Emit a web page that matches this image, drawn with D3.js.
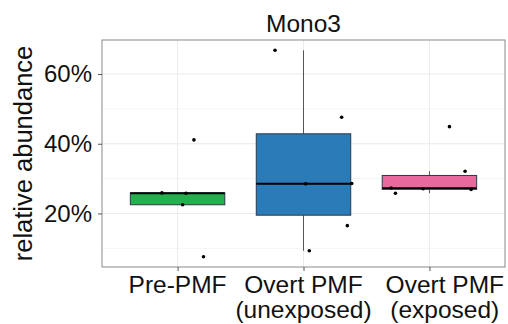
<!DOCTYPE html>
<html>
<head>
<meta charset="utf-8">
<script src="https://cdn.jsdelivr.net/npm/d3@7"></script>
<style>
  body { margin: 0; background: #fff; }
  svg { display: block; font-family: "Liberation Sans", Arial, sans-serif; }
</style>
</head>
<body>
<script>
// groups and their values (relative abundance, %)
var groups = ["Pre-PMF", "Overt PMF\n(unexposed)", "Overt PMF\n(exposed)"];
var colors = ["#22b14c", "#2c7bb9", "#e9699f"];
var prePMF = [7.6, 22.5, 25.8, 25.9, 41.1];
var unexposed = [9.3, 16.5, 28.5, 28.6, 47.6, 66.8];
var exposed = [25.8, 26.9, 27.1, 27.3, 32.1, 44.9];
// horizontal jitter of each point, in category widths
var jitPre = [0.206, 0.04, 0.067, -0.124, 0.13];
var jitUnexp = [0.046, 0.348, 0.017, 0.383, 0.303, -0.226];
var jitExp = [-0.27, 0.331, -0.05, -0.304, 0.283, 0.159];
var yTicks = [20, 40, 60];
var yMinor = [10, 30, 50];

var values = [prePMF, unexposed, exposed];
var jitters = [jitPre, jitUnexp, jitExp];

var w = 508, h = 324;
var pLeft = 102, pRight = 505, pTop = 40, pBottom = 267;

var svg = d3.select("body").append("svg")
  .attr("width", w)
  .attr("height", h);

// SCALES
var all = d3.merge(values);
var ext = d3.extent(all);
var pad = (ext[1] - ext[0]) * 0.05;
var y = d3.scaleLinear()
  .domain([ext[0] - pad, ext[1] + pad])
  .range([pBottom, pTop]);

var x = d3.scalePoint()
  .domain(groups)
  .range([pLeft, pRight])
  .padding(0.6);
var step = x.step();

// GRID
var grid = svg.append("g");
grid.selectAll(".minor").data(yMinor).enter().append("line")
  .attr("x1", pLeft).attr("x2", pRight)
  .attr("y1", d => y(d)).attr("y2", d => y(d))
  .attr("stroke", "#f4f4f4").attr("stroke-width", 1);
grid.selectAll(".major").data(yTicks).enter().append("line")
  .attr("x1", pLeft).attr("x2", pRight)
  .attr("y1", d => y(d)).attr("y2", d => y(d))
  .attr("stroke", "#ebebeb").attr("stroke-width", 1);
grid.selectAll(".vmajor").data(groups).enter().append("line")
  .attr("x1", d => x(d)).attr("x2", d => x(d))
  .attr("y1", pTop).attr("y2", pBottom)
  .attr("stroke", "#ebebeb").attr("stroke-width", 1);

// BOXES
var stats = values.map((v, i) => {
  var s = v.slice().sort(d3.ascending);
  var q1 = d3.quantile(s, 0.25), med = d3.quantile(s, 0.5), q3 = d3.quantile(s, 0.75);
  var iqr = q3 - q1;
  var lo = d3.min(s.filter(d => d >= q1 - 1.5 * iqr));
  var hi = d3.max(s.filter(d => d <= q3 + 1.5 * iqr));
  return {g: groups[i], c: colors[i], q1: q1, med: med, q3: q3, lo: lo, hi: hi};
});

var bw = step * 0.75;
var box = svg.selectAll(".box").data(stats).enter().append("g");
box.append("line")
  .attr("x1", d => x(d.g)).attr("x2", d => x(d.g))
  .attr("y1", d => y(d.hi)).attr("y2", d => y(d.q3))
  .attr("stroke", "#555").attr("stroke-width", 1);
box.append("line")
  .attr("x1", d => x(d.g)).attr("x2", d => x(d.g))
  .attr("y1", d => y(d.q1)).attr("y2", d => y(d.lo))
  .attr("stroke", "#555").attr("stroke-width", 1);
box.append("rect")
  .attr("x", d => x(d.g) - bw / 2)
  .attr("width", bw)
  .attr("y", d => y(d.q3))
  .attr("height", d => y(d.q1) - y(d.q3))
  .attr("fill", d => d.c)
  .attr("stroke", "#2a3a4a").attr("stroke-width", 1);
box.append("line")
  .attr("x1", d => x(d.g) - bw / 2).attr("x2", d => x(d.g) + bw / 2)
  .attr("y1", d => y(d.med)).attr("y2", d => y(d.med))
  .attr("stroke", "#000").attr("stroke-width", 2);

// POINTS
var pts = [];
values.forEach((v, i) => v.forEach((d, j) => pts.push({g: groups[i], v: d, j: jitters[i][j]})));
svg.selectAll(".pt").data(pts).enter().append("circle")
  .attr("cx", d => x(d.g) + d.j * step)
  .attr("cy", d => y(d.v))
  .attr("r", 1.8)
  .attr("fill", "#000");

// PANEL BORDER
svg.append("rect")
  .attr("x", pLeft).attr("y", pTop)
  .attr("width", pRight - pLeft).attr("height", pBottom - pTop)
  .attr("fill", "none").attr("stroke", "#8a8a8a").attr("stroke-width", 1);

// AXES
var yAxis = d3.axisLeft(y).tickValues(yTicks).tickSize(4).tickPadding(6)
  .tickFormat(d => d + "%");
var gy = svg.append("g").attr("transform", `translate(${pLeft},0)`).call(yAxis);
gy.select(".domain").remove();
gy.selectAll(".tick line").attr("stroke", "#555");
gy.selectAll(".tick text").attr("font-size", 24).attr("fill", "#111")
  .attr("font-family", "Liberation Sans, Arial, sans-serif");

var xAxis = d3.axisBottom(x).tickSize(4).tickFormat("");
var gx = svg.append("g").attr("transform", `translate(0,${pBottom})`).call(xAxis);
gx.select(".domain").remove();
gx.selectAll(".tick line").attr("stroke", "#555");

// x labels (two lines); the last one sits flush with the right edge
var xl = svg.selectAll(".xl").data(groups).enter().append("text")
  .attr("text-anchor", "middle")
  .attr("font-size", 24.5)
  .attr("fill", "#111");
xl.selectAll("tspan").data(d => d.split("\n")).enter().append("tspan")
  .attr("x", 0)
  .attr("dy", (d, i) => i ? 25 : 0)
  .text(d => d);
xl.attr("transform", function(d, i) {
  var tw = d3.max(d3.select(this).selectAll("tspan").nodes(), n => n.getComputedTextLength());
  var cx = i === groups.length - 1 ? w - 4 - tw / 2 : x(d);
  return `translate(${cx},293)`;
});

// title
svg.append("text")
  .attr("x", (pLeft + pRight) / 2).attr("y", 32)
  .attr("text-anchor", "middle")
  .attr("font-size", 24.5)
  .attr("fill", "#111")
  .text("Mono3");

// y axis title
svg.append("text")
  .attr("text-anchor", "middle")
  .attr("font-size", 25.5)
  .attr("fill", "#111")
  .attr("transform", "translate(32," + (pTop + pBottom) / 2 + ")rotate(-90)")
  .text("relative abundance");
</script>
</body>
</html>
